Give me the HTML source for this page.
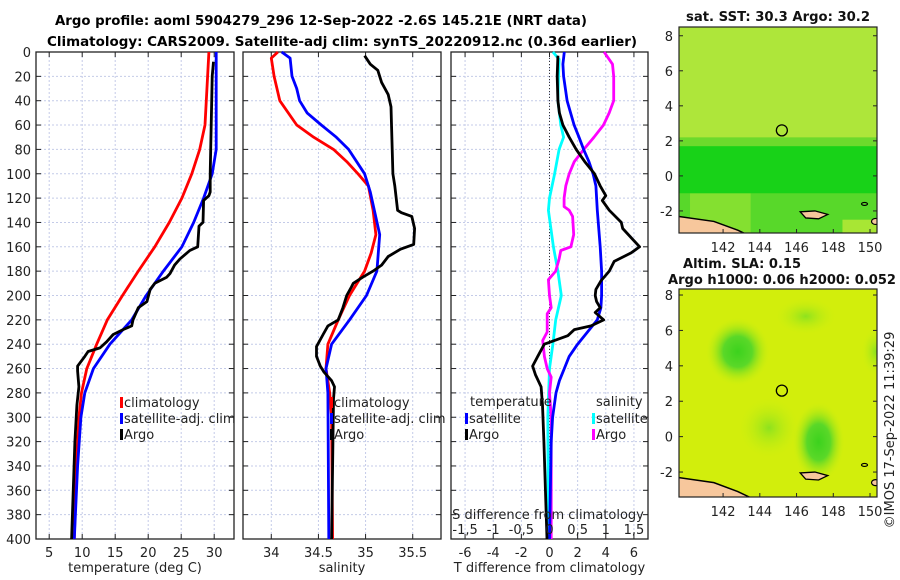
<!DOCTYPE html>
<html><head><meta charset="utf-8">
<style>
html,body{margin:0;padding:0;background:#fff;}
svg{display:block;font-family:"DejaVu Sans","Liberation Sans",sans-serif;}
</style></head>
<body>
<svg id="fig" width="900" height="580" viewBox="0 0 900 580" xmlns="http://www.w3.org/2000/svg">
<defs>
<radialGradient id="blob" cx="50%" cy="50%" r="50%">
<stop offset="0%" stop-color="#3cd21e"/><stop offset="45%" stop-color="#5ad828"/><stop offset="100%" stop-color="#c8ee10" stop-opacity="0"/>
</radialGradient>
<radialGradient id="blob2" cx="50%" cy="50%" r="50%">
<stop offset="0%" stop-color="#8ee21e"/><stop offset="100%" stop-color="#c8ee10" stop-opacity="0"/>
</radialGradient>
</defs>
<g id="titles" font-weight="bold" font-size="13" text-anchor="middle">
<text x="321" y="25" textLength="532" lengthAdjust="spacingAndGlyphs">Argo profile: aoml 5904279_296 12-Sep-2022 -2.6S 145.21E (NRT data)</text>
<text x="342" y="46" textLength="590" lengthAdjust="spacingAndGlyphs">Climatology: CARS2009. Satellite-adj clim: synTS_20220912.nc (0.36d earlier)</text>
</g>
<g id="panels"></g>
<g id="maps"></g>
<text transform="translate(894,430) rotate(-90)" font-size="13" text-anchor="middle" fill="#222">©IMOS 17-Sep-2022 11:39:29</text>
</svg>
<script>
// ---- Data ----
const depthTicks = [0,20,40,60,80,100,120,140,160,180,200,220,240,260,280,300,320,340,360,380,400];
const tempTicks = [5,10,15,20,25,30];
const salTicks = [34,34.5,35,35.5];
const salTickLabels = ["34","34.5","35","35.5"];
const tdiffTicks = [-6,-4,-2,0,2,4,6];
const sdiffTicks = [-1.5,-1,-0.5,0,0.5,1,1.5];
const sdiffTickLabels = ["-1,5","-1","-0,5","0","0,5","1","1,5"];

const climTDepth = [0,60,80,100,120,140,160,180,200,220,240,260,280,300,340,400];
const climTVal   = [29.2,28.6,27.8,26.6,25.1,23.2,21.0,18.5,16.1,13.8,12.2,10.7,9.9,9.5,9.1,8.8];
const satTDepth  = [0,80,100,120,140,160,180,200,220,240,260,280,300,340,400];
const satTVal    = [30.3,30.3,29.7,28.4,26.9,25.1,22.3,19.7,17.5,14.2,11.7,10.4,9.8,9.3,8.8];
const argoTDepth = [8,20,100,115,118,122,140,143,160,163,170,175,182,185,190,195,205,210,220,225,228,232,238,243,246,250,258,262,275,290,320,400];
const argoTVal   = [29.9,29.7,29.4,29.4,29.2,28.4,28.3,27.7,27.5,26.3,24.8,24.0,23.3,22.8,21.0,20.3,19.8,18.5,17.7,17.5,16.2,14.7,13.7,12.7,10.9,10.4,9.3,9.3,9.5,9.2,8.9,8.4];

const climSDepth = [0,5,20,40,60,70,80,90,100,110,130,150,165,180,200,220,240,260,280,300,400];
const climSVal   = [34.07,34.0,34.03,34.09,34.27,34.45,34.66,34.80,34.92,35.03,35.08,35.11,35.06,34.99,34.83,34.71,34.60,34.58,34.62,34.64,34.65];
const satSDepth  = [0,5,20,30,40,50,60,70,80,100,115,150,180,200,220,240,260,280,400];
const satSVal    = [34.11,34.20,34.22,34.27,34.30,34.38,34.53,34.69,34.82,34.99,35.05,35.15,35.12,35.01,34.83,34.64,34.58,34.60,34.61];
const argoSDepth = [3,10,15,25,35,45,100,110,130,132,135,145,158,162,168,175,180,185,190,193,200,210,220,225,232,242,250,258,263,270,275,285,400];
const argoSVal   = [34.99,35.05,35.13,35.17,35.24,35.27,35.29,35.31,35.34,35.38,35.49,35.52,35.51,35.37,35.24,35.17,35.08,34.97,34.87,34.85,34.80,34.76,34.71,34.60,34.55,34.48,34.48,34.52,34.56,34.64,34.67,34.66,34.64];

const tSatDiffDepth  = [0,10,20,40,50,60,70,80,90,100,110,130,160,180,200,210,220,230,240,250,260,270,280,300,320,400];
const tSatDiffVal    = [1.05,0.95,1.0,1.25,1.5,1.75,2.1,2.42,2.8,3.1,3.3,3.4,3.6,3.7,3.7,3.65,3.4,2.7,2.0,1.4,1.05,0.7,0.46,0.22,0.12,0.0];
const tArgoDiffDepth = [3,20,40,50,60,70,80,90,100,110,118,122,130,140,145,160,165,172,180,188,195,200,205,210,214,220,225,228,233,240,250,258,265,275,290,320,400];
const tArgoDiffVal   = [0.6,0.55,0.6,0.7,0.95,1.4,1.9,2.5,3.2,3.6,4.0,3.75,4.25,5.1,5.2,6.4,5.8,4.6,4.25,3.65,3.3,3.25,3.35,3.6,3.25,3.85,2.95,1.76,1.3,-0.37,-0.84,-1.2,-1.0,-0.6,-0.5,-0.4,-0.18];
const sSatDiffDepth  = [0,6,20,40,60,70,80,100,120,130,160,180,200,220,240,260,300,400];
const sSatDiffVal    = [0.06,0.17,0.16,0.15,0.2,0.25,0.17,0.09,0.0,-0.02,0.07,0.15,0.21,0.11,0.06,0.0,-0.03,-0.02];
const sArgoDiffDepth = [0,10,20,40,50,60,70,80,90,100,110,120,127,130,135,150,160,163,170,180,187,200,210,215,230,237,250,260,267,280,300,400];
const sArgoDiffVal   = [0.97,1.12,1.14,1.14,1.06,0.96,0.79,0.61,0.44,0.35,0.29,0.26,0.26,0.35,0.41,0.43,0.38,0.2,0.17,0.11,-0.02,0.0,0.03,-0.04,-0.04,-0.12,-0.09,-0.04,0.03,0.0,0.03,0.03];

const mapLatTicks = [-2,0,2,4,6,8];
const mapLonTicks = [142,144,146,148,150];
const argoLon = 145.2, argoLat = 2.6;

// ---- Scales ----
const yTop = 52, yBot = 539;
const yD = d => yTop + d * (yBot - yTop) / 400;
const P1 = {x0:36, x1:234, lo:3, hi:33};
const P2 = {x0:243, x1:441, lo:33.7, hi:35.8};
const P3 = {x0:451, x1:648, lo:-7, hi:7};
const xT  = v => P1.x0 + (v - P1.lo) * (P1.x1 - P1.x0) / (P1.hi - P1.lo);
const xS  = v => P2.x0 + (v - P2.lo) * (P2.x1 - P2.x0) / (P2.hi - P2.lo);
const xTd = v => P3.x0 + (v - P3.lo) * (P3.x1 - P3.x0) / (P3.hi - P3.lo);
const xSd = v => xTd(v * 4);

const NS = "http://www.w3.org/2000/svg";
function mk(tag, attrs, parent) {
  const el = document.createElementNS(NS, tag);
  for (const k in attrs) el.setAttribute(k, attrs[k]);
  parent.appendChild(el);
  return el;
}
const panels = document.getElementById('panels');

function drawPanel(P, name, xTicks, xLabels, xfun, xTitle) {
  const g = mk('g', {}, panels);
  
  
  depthTicks.forEach(d => {
    const l = mk('line', {x1:P.x0, x2:P.x1, y1:yD(d), y2:yD(d), stroke:'#c4cbe8', 'stroke-width':1, 'stroke-dasharray':'2 2'}, g);
    
    
  });
  xTicks.forEach(v => {
    const x = xfun(v);
    const l = mk('line', {x1:x, x2:x, y1:yTop, y2:yBot, stroke:'#c4cbe8', 'stroke-width':1, 'stroke-dasharray':'2 2'}, g);
    
    
  });
  const fr = mk('rect', {x:P.x0, y:yTop, width:P.x1-P.x0, height:yBot-yTop, fill:'none', stroke:'#222', 'stroke-width':1.3}, g);
  
  
  depthTicks.forEach(d => {
    mk('line', {x1:P.x0, x2:P.x0+5, y1:yD(d), y2:yD(d), stroke:'#222'}, g);
    mk('line', {x1:P.x1-5, x2:P.x1, y1:yD(d), y2:yD(d), stroke:'#222'}, g);
  });
  xTicks.forEach((v,i) => {
    const x = xfun(v);
    mk('line', {x1:x, x2:x, y1:yBot-5, y2:yBot, stroke:'#222'}, g);
    mk('line', {x1:x, x2:x, y1:yTop, y2:yTop+5, stroke:'#222'}, g);
    const t = mk('text', {x:x, y:557, 'font-size':13, 'text-anchor':'middle', fill:'#222'}, g);
    t.textContent = xLabels[i];
    
    
  });
  const xt = mk('text', {x:(P.x0+P.x1)/2, y:572, 'font-size':13, 'text-anchor':'middle', fill:'#222'}, g);
  xt.textContent = xTitle;
  
  
  return g;
}
function line(g, depths, vals, xfun, color, name) {
  const pts = depths.map((d,i) => xfun(vals[i]).toFixed(1) + ',' + yD(d).toFixed(1)).join(' ');
  const p = mk('polyline', {points:pts, fill:'none', stroke:color, 'stroke-width':2.8, 'stroke-linejoin':'round'}, g);
  
  
}
function legend(g, x, y, color, label, name) {
  const lg = mk('g', {}, g);
  
  
  mk('rect', {x:x, y:y-10, width:3, height:11, fill:color}, lg);
  const t = mk('text', {x:x+4, y:y, 'font-size':13, fill:'#222'}, lg);
  t.textContent = label;
}

depthTicks.forEach(d => {
  const t = mk('text', {x:31, y:yD(d)+5, 'font-size':13, 'text-anchor':'end', fill:'#222'}, panels);
  t.textContent = d;
  
  
});

const g1 = drawPanel(P1, 'temperature-panel', tempTicks, tempTicks.map(String), xT, 'temperature (deg C)');
line(g1, climTDepth, climTVal, xT, '#ff0000', 'temp-climatology-line');
line(g1, satTDepth, satTVal, xT, '#0000ff', 'temp-satellite-line');
line(g1, argoTDepth, argoTVal, xT, '#000000', 'temp-argo-line');
legend(g1, 120, 407, '#ff0000', 'climatology', 'legend-climatology');
legend(g1, 120, 423, '#0000ff', 'satellite-adj. clim', 'legend-satellite');
legend(g1, 120, 439, '#000000', 'Argo', 'legend-argo');

const g2 = drawPanel(P2, 'salinity-panel', salTicks, salTickLabels, xS, 'salinity');
line(g2, climSDepth, climSVal, xS, '#ff0000', 'sal-climatology-line');
line(g2, satSDepth, satSVal, xS, '#0000ff', 'sal-satellite-line');
line(g2, argoSDepth, argoSVal, xS, '#000000', 'sal-argo-line');
legend(g2, 330, 407, '#ff0000', 'climatology', 'legend-climatology-2');
legend(g2, 330, 423, '#0000ff', 'satellite-adj. clim', 'legend-satellite-2');
legend(g2, 330, 439, '#000000', 'Argo', 'legend-argo-2');

const g3 = drawPanel(P3, 'difference-panel', tdiffTicks, tdiffTicks.map(String), xTd, 'T difference from climatology');
mk('line', {x1:xTd(0), x2:xTd(0), y1:yTop, y2:yBot, stroke:'#333', 'stroke-dasharray':'1 2'}, g3);
line(g3, sSatDiffDepth, sSatDiffVal, xSd, '#00ffff', 'sdiff-satellite-line');
line(g3, sArgoDiffDepth, sArgoDiffVal, xSd, '#ff00ff', 'sdiff-argo-line');
line(g3, tSatDiffDepth, tSatDiffVal, xTd, '#0000ff', 'tdiff-satellite-line');
line(g3, tArgoDiffDepth, tArgoDiffVal, xTd, '#000000', 'tdiff-argo-line');
sdiffTicks.forEach((v,i) => {
  const t = mk('text', {x:xSd(v), y:534, 'font-size':13, 'text-anchor':'middle', fill:'#222'}, g3);
  t.textContent = sdiffTickLabels[i];
  
  
});
const st = mk('text', {x:548, y:519, 'font-size':13, 'text-anchor':'middle', fill:'#222'}, g3);
st.textContent = 'S difference from climatology';


const lt = mk('text', {x:470, y:406, 'font-size':13, fill:'#222'}, g3);
lt.textContent = 'temperature';


const ls = mk('text', {x:596, y:406, 'font-size':13, fill:'#222'}, g3);
ls.textContent = 'salinity';


legend(g3, 465, 423, '#0000ff', 'satellite', 'legend-t-satellite');
legend(g3, 465, 439, '#000000', 'Argo', 'legend-t-argo');
legend(g3, 592, 423, '#00ffff', 'satellite', 'legend-s-satellite');
legend(g3, 592, 439, '#ff00ff', 'Argo', 'legend-s-argo');

// ---- Maps ----
const maps = document.getElementById('maps');
function drawMap(M, name, kind) {
  const g = mk('g', {}, maps);
  
  
  const lon = v => M.x0 + (v - M.lonLo) * (M.x1 - M.x0) / (M.lonHi - M.lonLo);
  const lat = v => M.y0 + (M.latHi - v) * (M.y1 - M.y0) / (M.latHi - M.latLo);
  const cp = 'clip' + name;
  const c = mk('clipPath', {id:cp}, g);
  mk('rect', {x:M.x0, y:M.y0, width:M.x1-M.x0, height:M.y1-M.y0}, c);
  const inner = mk('g', {'clip-path':'url(#'+cp+')'}, g);
  const W = M.x1 - M.x0;
  if (kind === 'sst') {
    mk('rect', {x:M.x0, y:M.y0, width:W, height:M.y1-M.y0, fill:'#aee63a'}, inner);
    mk('rect', {x:M.x0, y:lat(2.2), width:W, height:lat(1.7)-lat(2.2), fill:'#6cda2c'}, inner);
    mk('rect', {x:M.x0, y:lat(1.7), width:W, height:lat(-1.0)-lat(1.7), fill:'#18d218'}, inner);
    mk('rect', {x:M.x0, y:lat(-1.0), width:W, height:M.y1-lat(-1.0), fill:'#58d82a'}, inner);
    mk('rect', {x:lon(140.2), y:lat(-1.0), width:lon(143.5)-lon(140.2), height:M.y1-lat(-1.0), fill:'#90e232', opacity:0.8}, inner);
    mk('rect', {x:lon(148.5), y:lat(-2.5), width:lon(150.4)-lon(148.5), height:M.y1-lat(-2.5), fill:'#a8e634'}, inner);
  } else {
    mk('rect', {x:M.x0, y:M.y0, width:W, height:M.y1-M.y0, fill:'#d2ee0c'}, inner);
    mk('ellipse', {cx:lon(142.8), cy:lat(4.8), rx:32, ry:34, fill:'url(#blob)'}, inner);
    mk('ellipse', {cx:lon(147.2), cy:lat(-0.3), rx:26, ry:40, fill:'url(#blob)'}, inner);
    mk('ellipse', {cx:lon(144.5), cy:lat(0.5), rx:30, ry:30, fill:'url(#blob2)'}, inner);
    mk('ellipse', {cx:lon(150.3), cy:lat(4.8), rx:14, ry:24, fill:'url(#blob2)'}, inner);
    mk('ellipse', {cx:lon(146.5), cy:lat(6.8), rx:30, ry:18, fill:'url(#blob2)'}, inner);
  }
  const land = mk('polygon', {points:[lon(139.5),lat(-2.3), lon(141.5),lat(-2.6), lon(142.8),lat(-3.1), lon(143.6),lat(-3.5), lon(139.5),lat(-3.5)].join(' '), fill:'#f7c79c', stroke:'#000', 'stroke-width':1.5}, inner);
  
  
  const isl = mk('polygon', {points:[lon(146.2),lat(-2.05), lon(147.0),lat(-2.0), lon(147.7),lat(-2.2), lon(147.2),lat(-2.45), lon(146.5),lat(-2.4)].join(' '), fill:'#f7c79c', stroke:'#000', 'stroke-width':1.3}, inner);
  
  
  mk('ellipse', {cx:lon(150.3), cy:lat(-2.6), rx:4, ry:3, fill:'#f7c79c', stroke:'#000', 'stroke-width':1.2}, inner);
  mk('ellipse', {cx:lon(149.7), cy:lat(-1.6), rx:3, ry:1.5, fill:'none', stroke:'#000', 'stroke-width':1.2}, inner);
  const fr = mk('rect', {x:M.x0, y:M.y0, width:W, height:M.y1-M.y0, fill:'none', stroke:'#222', 'stroke-width':1.2}, g);
  
  
  const circ = mk('circle', {cx:lon(argoLon), cy:lat(argoLat), r:5.5, fill:'none', stroke:'#000', 'stroke-width':1.3}, g);
  
  
  mapLatTicks.forEach(v => {
    mk('line', {x1:M.x0, x2:M.x0+4, y1:lat(v), y2:lat(v), stroke:'#222'}, g);
    mk('line', {x1:M.x1-4, x2:M.x1, y1:lat(v), y2:lat(v), stroke:'#222'}, g);
    const t = mk('text', {x:M.x0-6, y:lat(v)+5, 'font-size':13, 'text-anchor':'end', fill:'#222'}, g);
    t.textContent = v;
    
    
  });
  mapLonTicks.forEach(v => {
    mk('line', {x1:lon(v), x2:lon(v), y1:M.y1-4, y2:M.y1, stroke:'#222'}, g);
    const t = mk('text', {x:lon(v), y:M.y1+19, 'font-size':13, 'text-anchor':'middle', fill:'#222'}, g);
    t.textContent = v;
    
    
  });
  return g;
}
drawMap({x0:679, x1:877, y0:27, y1:233, lonLo:139.6, lonHi:150.38, latHi:8.5, latLo:-3.26}, 'sst-map', 'sst');
drawMap({x0:679, x1:877, y0:289, y1:497, lonLo:139.6, lonHi:150.38, latHi:8.34, latLo:-3.41}, 'sla-map', 'sla');
function mtitle(x, y, s, name, len) {
  const t = mk('text', {x:x, y:y, 'font-size':13, 'font-weight':'bold', 'text-anchor':'middle', fill:'#111', textLength:len, lengthAdjust:'spacingAndGlyphs'}, maps);
  t.textContent = s;
  
  
}
mtitle(778, 21, 'sat. SST: 30.3 Argo: 30.2', 'sst-map-title', 184);
mtitle(742, 268, 'Altim. SLA: 0.15', 'sla-map-title', 118);
mtitle(782, 284, 'Argo h1000: 0.06 h2000: 0.052', 'sla-map-subtitle', 228);
</script>
</body></html>
